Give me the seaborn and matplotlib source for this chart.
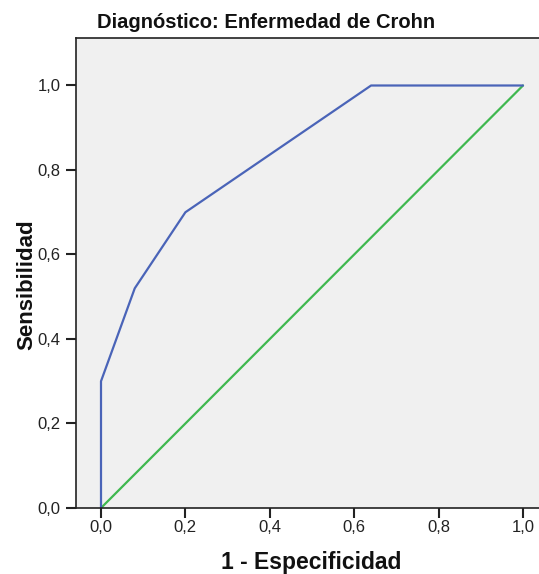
import matplotlib
matplotlib.use("Agg")
import matplotlib.pyplot as plt
import seaborn as sns
import pandas as pd
from matplotlib.ticker import FuncFormatter

# ROC curve coordinates
roc_fpr = [0.0, 0.0, 0.08, 0.20, 0.64, 1.0]
roc_tpr = [0.0, 0.30, 0.52, 0.70, 1.0, 1.0]
# Reference (chance) line
ref_x = [0.0, 1.0]
ref_y = [0.0, 1.0]
tick_values = [0.0, 0.2, 0.4, 0.6, 0.8, 1.0]

sns.set_theme(style="white")
plt.rcParams["font.family"] = ["Liberation Sans", "DejaVu Sans"]

fig = plt.figure(figsize=(5.39, 5.74), dpi=100)
ax = fig.add_axes([76 / 539, 1 - 508 / 574, (539 - 76) / 539, (508 - 38) / 574])
ax.set_facecolor("#f0f0f0")

roc_df = pd.DataFrame({"fpr": roc_fpr, "tpr": roc_tpr})
ref_df = pd.DataFrame({"x": ref_x, "y": ref_y})

sns.lineplot(data=ref_df, x="x", y="y", ax=ax, color="#3fb84f", lw=1.6,
             estimator=None, sort=False)
sns.lineplot(data=roc_df, x="fpr", y="tpr", ax=ax, color="#4a64b8", lw=1.6,
             estimator=None, sort=False)

x0 = 101.0
px_per_unit_x = 422.0
ax.set_xlim((76 - x0) / px_per_unit_x, (539 - x0) / px_per_unit_x)
ax.set_ylim(0.0, (508 - 38) / 422.5)

ax.set_xticks(tick_values)
ax.set_yticks(tick_values)
fmt = FuncFormatter(lambda v, p: f"{v:.1f}".replace(".", ","))
ax.xaxis.set_major_formatter(fmt)
ax.yaxis.set_major_formatter(fmt)
ax.tick_params(axis="both", direction="out", length=7, width=1.5, color="#222222",
               labelsize=12, labelcolor="#222222", bottom=True, left=True)
ax.tick_params(axis="x", pad=2)
ax.tick_params(axis="y", pad=4)

for side in ["left", "bottom", "top"]:
    ax.spines[side].set_visible(True)
    ax.spines[side].set_color("#222222")
    ax.spines[side].set_linewidth(1.2)
ax.spines["right"].set_visible(False)

ax.set_xlabel("")
ax.set_ylabel("")
fig.text(311 / 539, 1 - 562 / 574, "1 - Especificidad", ha="center", va="center",
         fontsize=16.5, fontweight="bold", color="#111111")
fig.text(27 / 539, 1 - 285 / 574, "Sensibilidad", ha="center", va="center",
         rotation=90, fontsize=16, fontweight="bold", color="#111111")
fig.text(266 / 539, 1 - 23 / 574, "Diagnóstico: Enfermedad de Crohn", ha="center",
         va="center", fontsize=14.5, fontweight="bold", color="#111111")

fig.savefig("out.png", dpi=100)
